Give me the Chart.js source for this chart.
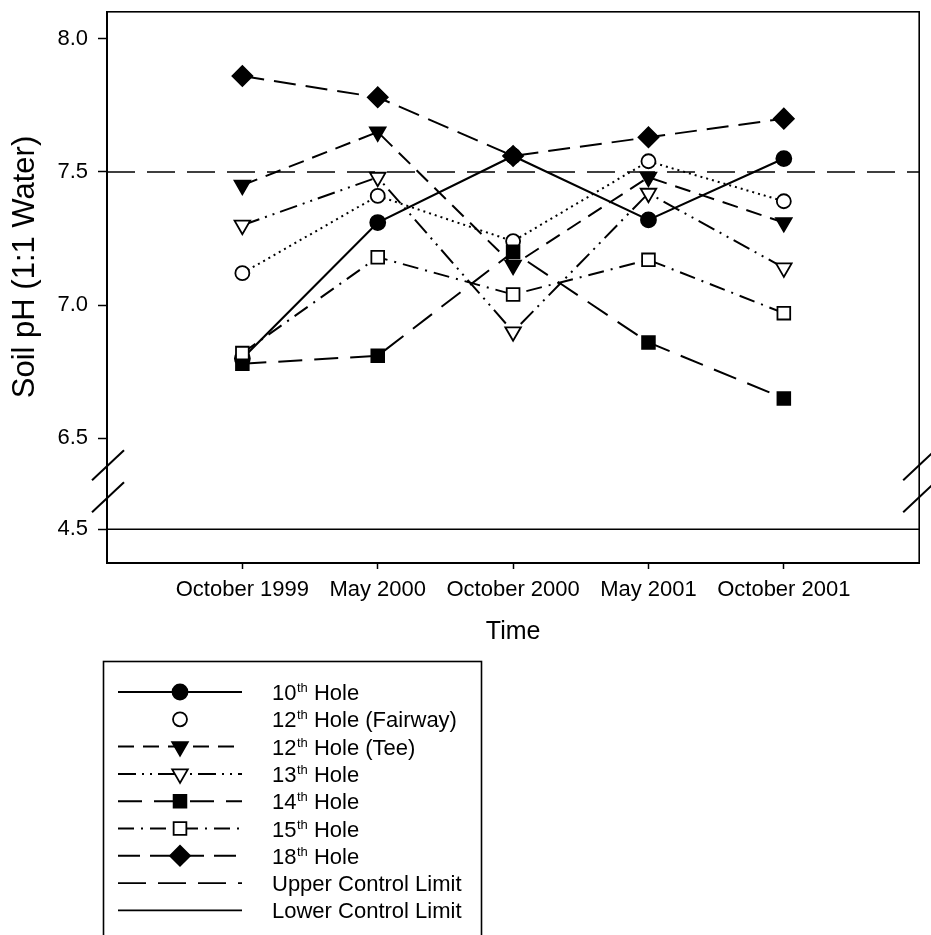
<!DOCTYPE html>
<html lang="en">

<head>
  <meta charset="UTF-8" />
  <title>Soil pH by Hole</title>
  <script src="https://cdn.jsdelivr.net/npm/chart.js"></script>
  <style>
    html, body { margin: 0; padding: 0; background: #fff; }
    #wrap { width: 931px; height: 935px; }
  </style>
</head>

<body>
  <div id="wrap"><canvas id="phChart" width="931" height="935"></canvas></div>

  <script>
    // sampling dates, plotted at x = 0..4
    const dates = ['October 1999', 'May 2000', 'October 2000', 'May 2001', 'October 2001'];

    // soil pH (1:1 water) per hole
    const hole10 = [6.80, 7.31, 7.56, 7.32, 7.55];
    const hole12Fairway = [7.12, 7.41, 7.24, 7.54, 7.39];
    const hole12Tee = [7.45, 7.65, 7.15, 7.48, 7.31];
    const hole13 = [7.30, 7.48, 6.90, 7.42, 7.14];
    const hole14 = [6.78, 6.81, 7.20, 6.86, 6.65];
    const hole15 = [6.82, 7.18, 7.04, 7.17, 6.97];
    const hole18 = [7.86, 7.78, 7.56, 7.63, 7.70];

    const upperLimit = 7.5;
    const lowerLimit = 4.5;

    // the y axis is broken: upper part 6.5-8.0, lower part around 4.5
    const upperTicks = [6.5, 7.0, 7.5, 8.0];
    const lowerTicks = [4.5];

    const FONT = "'Liberation Sans', Arial, Helvetica, sans-serif";
    Chart.defaults.font.family = FONT;
    Chart.defaults.color = '#000';

    const toPoints = vals => vals.map((v, i) => ({ x: i, y: v }));
    const across = v => [{ x: -1, y: v }, { x: 5, y: v }];

    function hole(label, values, style, order) {
      return Object.assign({
        label: label,
        data: toPoints(values),
        yAxisID: 'y',
        borderColor: '#000',
        borderWidth: 2,
        pointBorderColor: '#000',
        pointBorderWidth: 1.8,
        pointHoverRadius: 0,
        tension: 0,
        fill: false,
        order: order
      }, style);
    }

    const datasets = [
      hole('10th Hole', hole10, { pointStyle: 'circle', pointRadius: 7.5, pointBackgroundColor: '#000', borderWidth: 2.2 }, 9),
      hole('12th Hole (Fairway)', hole12Fairway, { borderDash: [2, 4], pointStyle: 'circle', pointRadius: 7, pointBackgroundColor: '#fff', legendNoLine: true }, 8),
      hole('12th Hole (Tee)', hole12Tee, { borderDash: [16, 9], pointStyle: 'triangle', pointRotation: 180, pointRadius: 9, pointBackgroundColor: '#000' }, 7),
      hole('13th Hole', hole13, { borderDash: [18, 6, 2, 6, 2, 6], pointStyle: 'triangle', pointRotation: 180, pointRadius: 9, pointBackgroundColor: '#fff' }, 6),
      hole('14th Hole', hole14, { borderDash: [24, 12], pointStyle: 'rect', pointRadius: 9, pointBackgroundColor: '#000' }, 5),
      hole('15th Hole', hole15, { borderDash: [16, 7, 2, 7], pointStyle: 'rect', pointRadius: 9, pointBackgroundColor: '#fff' }, 4),
      hole('18th Hole', hole18, { borderDash: [22, 10], pointStyle: 'rectRot', pointRadius: 10, pointBackgroundColor: '#000' }, 3),
      {
        label: 'Upper Control Limit', data: across(upperLimit), yAxisID: 'y',
        borderColor: '#000', borderWidth: 1.6, borderDash: [28, 12], pointRadius: 0, order: 20
      },
      {
        label: 'Lower Control Limit', data: across(lowerLimit), yAxisID: 'yLow',
        borderColor: '#000', borderWidth: 1.6, pointRadius: 0, order: 20
      }
    ];

    function yAxis(min, max, ticks, weight) {
      return {
        type: 'linear',
        position: 'left',
        stack: 'ph',
        stackWeight: weight,
        min: min,
        max: max,
        afterBuildTicks: s => { s.ticks = ticks.map(v => ({ value: v })); },
        afterFit: s => {
          s.width = 107;
          s.paddingTop = 0;
          s.paddingBottom = 0;
        },
        ticks: { callback: v => v.toFixed(1), font: { size: 22 }, padding: 10 },
        grid: { drawOnChartArea: false, tickLength: 9, tickColor: '#000', tickWidth: 1.5 },
        border: { color: '#000', width: 2 }
      };
    }

    // box outline, axis breaks, y title and the legend
    const extras = {
      id: 'extras',
      afterDraw(chart) {
        const ctx = chart.ctx;
        const a = chart.chartArea;
        ctx.save();
        ctx.strokeStyle = '#000';
        ctx.lineWidth = 1.6;
        ctx.setLineDash([]);
        ctx.strokeRect(a.left, a.top, a.right - a.left, a.bottom - a.top);

        // break marks on both sides
        const by = chart.scales.y.bottom;
        ctx.lineWidth = 2;
        [a.left + 1, a.right].forEach(x => {
          [by - 16, by + 16].forEach(y => {
            ctx.beginPath();
            ctx.moveTo(x - 16, y + 15);
            ctx.lineTo(x + 16, y - 15);
            ctx.stroke();
          });
        });

        // y axis title
        ctx.fillStyle = '#000';
        ctx.font = '31px ' + FONT;
        ctx.textAlign = 'center';
        ctx.textBaseline = 'middle';
        ctx.translate(25, 267);
        ctx.rotate(-Math.PI / 2);
        ctx.fillText('Soil pH (1:1 Water)', 0, 0);
        ctx.restore();

        drawLegend(chart);
      }
    };

    function drawLegend(chart) {
      const ctx = chart.ctx;
      ctx.save();
      ctx.strokeStyle = '#000';
      ctx.lineWidth = 1.6;
      ctx.strokeRect(103.5, 661.5, 378, 300);

      chart.data.datasets.forEach((ds, i) => {
        const y = 692 + i * 27.3;
        ctx.strokeStyle = '#000';
        if (!ds.legendNoLine) {
          ctx.lineWidth = ds.borderWidth;
          ctx.setLineDash(ds.borderDash || []);
          ctx.beginPath();
          ctx.moveTo(118, y);
          ctx.lineTo(242, y);
          ctx.stroke();
        }
        ctx.setLineDash([]);
        if (ds.pointRadius) {
          ctx.fillStyle = ds.pointBackgroundColor;
          ctx.lineWidth = ds.pointBorderWidth;
          Chart.helpers.drawPoint(ctx, {
            pointStyle: ds.pointStyle,
            radius: ds.pointRadius,
            rotation: ds.pointRotation || 0,
            borderWidth: ds.pointBorderWidth
          }, 180, y);
        }

        // ordinal suffix drawn as superscript
        ctx.fillStyle = '#000';
        ctx.textAlign = 'left';
        ctx.textBaseline = 'alphabetic';
        const base = y + 8;
        const m = ds.label.match(/^(\d+)(th)(.*)$/);
        let x = 272;
        if (m) {
          ctx.font = '22px ' + FONT;
          ctx.fillText(m[1], x, base);
          x += ctx.measureText(m[1]).width;
          ctx.font = '13px ' + FONT;
          ctx.fillText(m[2], x + 0.5, base - 8);
          x += ctx.measureText(m[2]).width + 0.5;
          ctx.font = '22px ' + FONT;
          ctx.fillText(m[3], x, base);
        } else {
          ctx.font = '22px ' + FONT;
          ctx.fillText(ds.label, x, base);
        }
      });
      ctx.restore();
    }

    new Chart(document.getElementById('phChart'), {
      type: 'line',
      data: { datasets: datasets },
      plugins: [extras],
      options: {
        responsive: false,
        animation: false,
        events: [],
        layout: { padding: { left: 0, top: 10, right: 8, bottom: 282 } },
        plugins: {
          legend: { display: false },
          tooltip: { enabled: false }
        },
        scales: {
          x: {
            type: 'linear',
            min: -1,
            max: 5,
            afterBuildTicks: s => { s.ticks = dates.map((d, i) => ({ value: i })); },
            afterFit: s => {
              s.height = 90;
              s.paddingLeft = 0;
              s.paddingRight = 0;
            },
            ticks: {
              callback: v => dates[v],
              font: { size: 22 },
              padding: 8,
              maxRotation: 0,
              minRotation: 0,
              autoSkip: false
            },
            grid: { drawOnChartArea: false, tickLength: 6, tickColor: '#000', tickWidth: 1.5 },
            border: { color: '#000', width: 2 },
            title: { display: true, text: 'Time', font: { size: 25 }, padding: { top: 4, bottom: 6 } }
          },
          yLow: yAxis(4.373, 4.68, lowerTicks, 82),
          y: yAxis(6.339, 8.101, upperTicks, 471)
        }
      }
    });
  </script>
</body>

</html>
